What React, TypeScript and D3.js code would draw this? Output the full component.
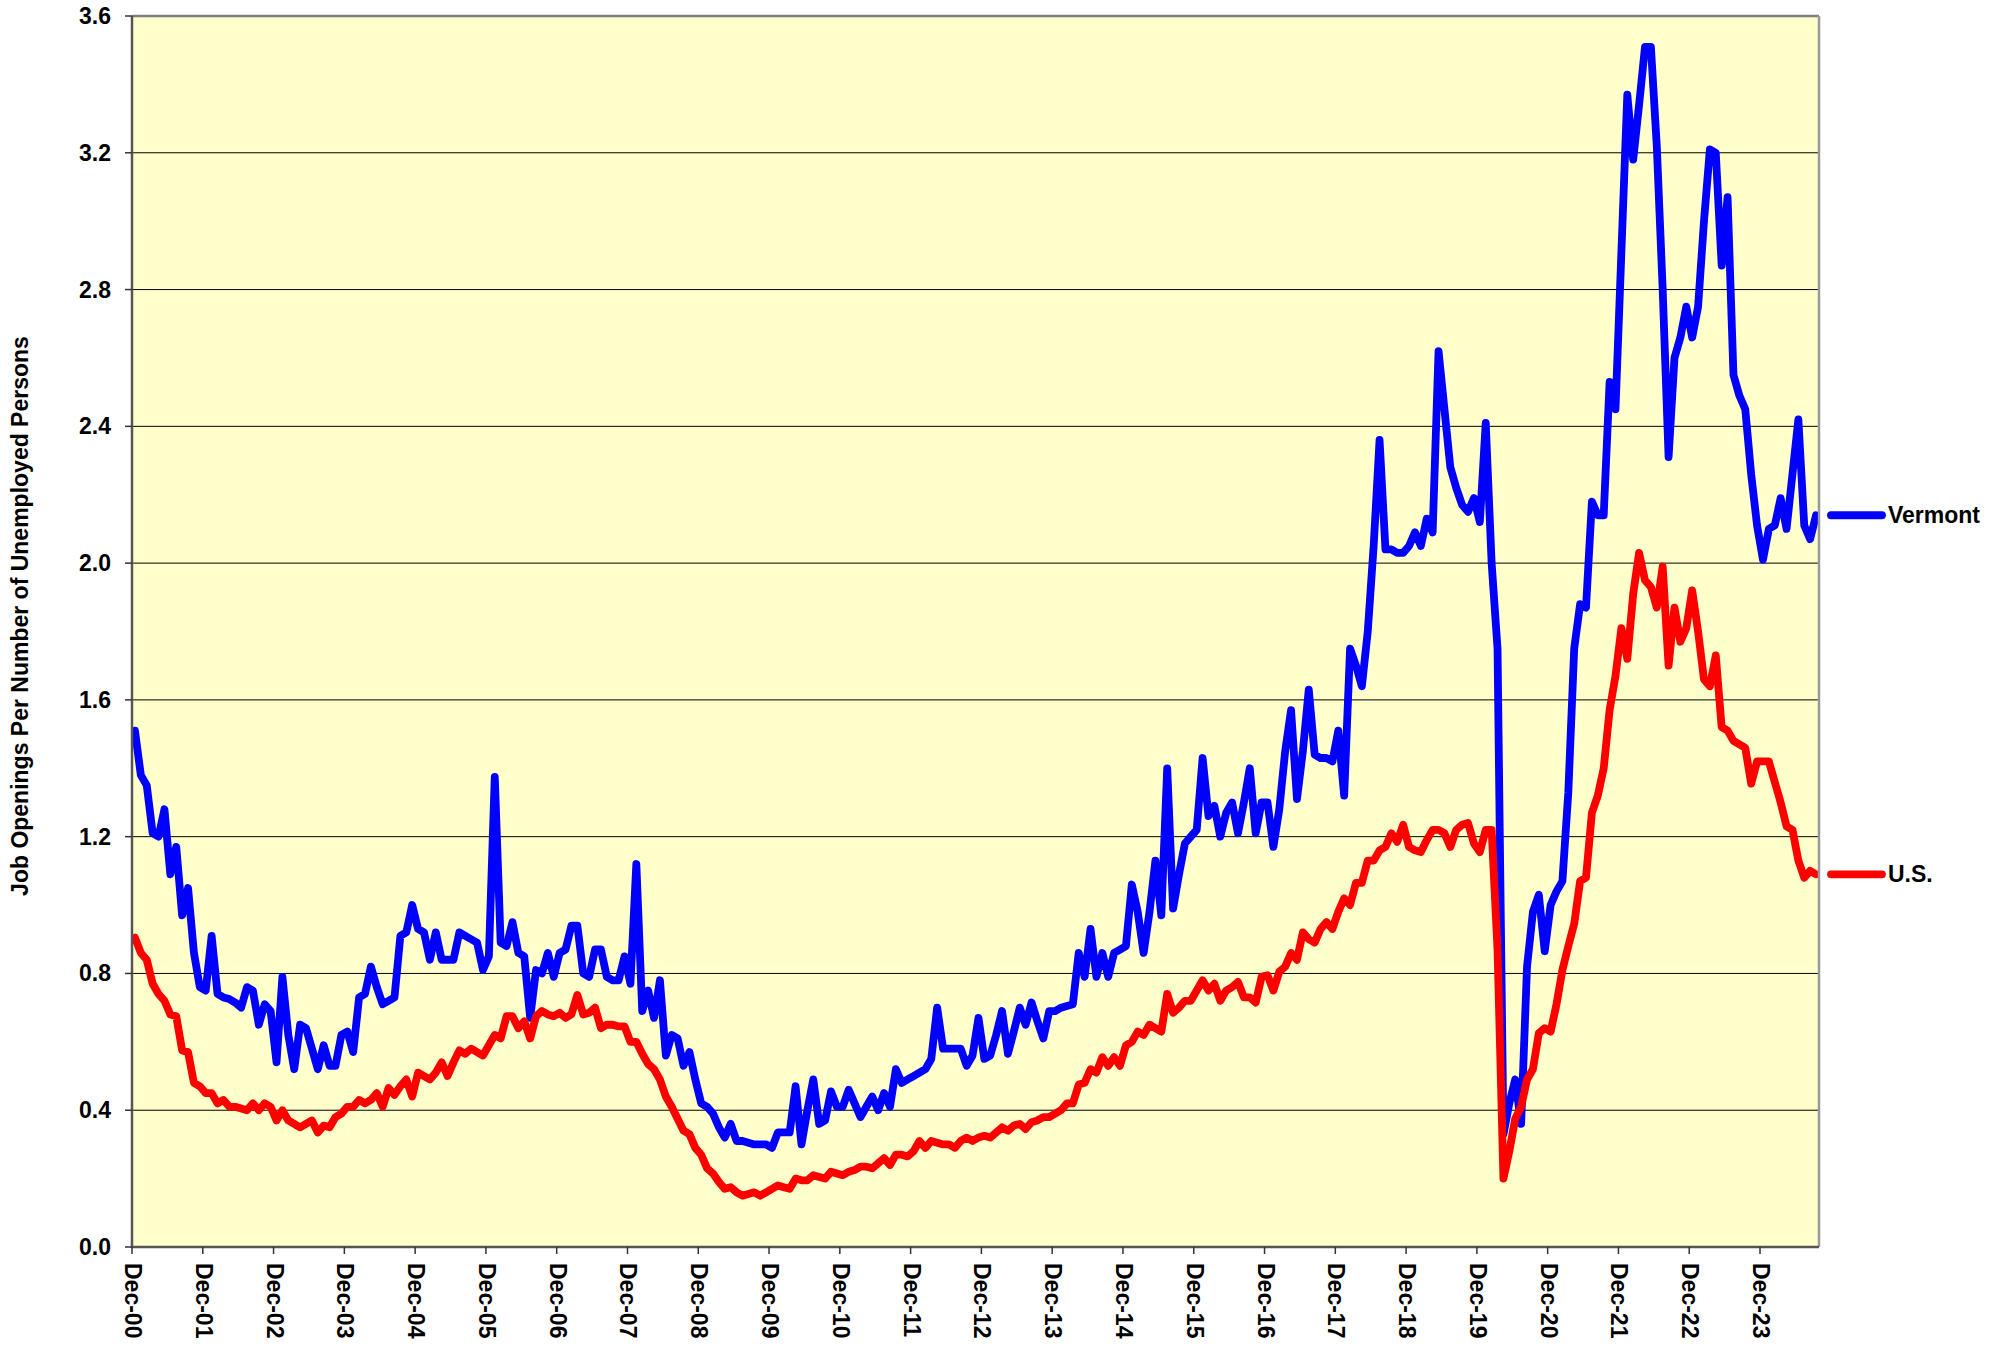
import React from 'react';
import * as d3 from 'd3';

// monthly ratios, Dec 2000 onwards
const vermont = [
  1.51, 1.38, 1.35, 1.21, 1.20, 1.28, 1.09, 1.17, 0.97, 1.05,
  0.86, 0.76, 0.75, 0.91, 0.74, 0.73, 0.725, 0.715, 0.70, 0.76,
  0.75, 0.65, 0.71, 0.69, 0.54, 0.79, 0.62, 0.52, 0.65, 0.64,
  0.58, 0.52, 0.59, 0.53, 0.53, 0.62, 0.63, 0.57, 0.73, 0.74,
  0.82, 0.76, 0.71, 0.72, 0.73, 0.91, 0.92, 1.00, 0.93, 0.92,
  0.84, 0.92, 0.84, 0.84, 0.84, 0.92, 0.91, 0.90, 0.89, 0.81,
  0.85, 1.375, 0.89, 0.88, 0.95, 0.86, 0.85, 0.67, 0.81, 0.80,
  0.86, 0.79, 0.86, 0.87, 0.94, 0.94, 0.80, 0.79, 0.87, 0.87,
  0.79, 0.78, 0.78, 0.85, 0.77, 1.12, 0.69, 0.75, 0.67, 0.78,
  0.56, 0.62, 0.61, 0.53, 0.57, 0.49, 0.42, 0.41, 0.39, 0.35,
  0.32, 0.36, 0.31, 0.31, 0.305, 0.30, 0.30, 0.30, 0.29, 0.335,
  0.335, 0.335, 0.47, 0.30, 0.40, 0.49, 0.36, 0.37, 0.455, 0.41,
  0.41, 0.46, 0.42, 0.38, 0.41, 0.44, 0.40, 0.45, 0.41, 0.52,
  0.48, 0.49, 0.50, 0.51, 0.52, 0.55, 0.70, 0.58, 0.58, 0.58,
  0.58, 0.53, 0.56, 0.67, 0.55, 0.56, 0.62, 0.69, 0.565, 0.63,
  0.70, 0.65, 0.715, 0.66, 0.61, 0.69, 0.69, 0.70, 0.705, 0.71,
  0.86, 0.79, 0.93, 0.79, 0.86, 0.79, 0.86, 0.87, 0.88, 1.06,
  0.98, 0.86, 0.98, 1.13, 0.97, 1.40, 0.99, 1.09, 1.18, 1.20,
  1.22, 1.43, 1.26, 1.29, 1.20, 1.27, 1.30, 1.21, 1.30, 1.40,
  1.21, 1.30, 1.30, 1.17, 1.28, 1.45, 1.57, 1.31, 1.45, 1.63,
  1.44, 1.43, 1.43, 1.42, 1.51, 1.32, 1.75, 1.70, 1.64, 1.80,
  2.05, 2.36, 2.04, 2.04, 2.03, 2.03, 2.05, 2.09, 2.05, 2.13,
  2.09, 2.62, 2.45, 2.28, 2.22, 2.17, 2.15, 2.19, 2.12, 2.41,
  2.00, 1.75, 0.33, 0.42, 0.49, 0.36, 0.82, 0.98, 1.03, 0.865,
  1.00, 1.04, 1.07, 1.33, 1.75, 1.88, 1.87, 2.18, 2.14, 2.14,
  2.53, 2.45, 2.91, 3.37, 3.18, 3.34, 3.51, 3.51, 3.22, 2.80,
  2.31, 2.60, 2.66, 2.75, 2.66, 2.75, 3.00, 3.21, 3.20, 2.87,
  3.07, 2.55, 2.49, 2.45, 2.26, 2.11, 2.01, 2.10, 2.11, 2.19,
  2.10, 2.26, 2.42, 2.11, 2.07, 2.14,
];

const us = [
  0.905, 0.86, 0.84, 0.77, 0.74, 0.72, 0.68, 0.675, 0.575, 0.57,
  0.48, 0.47, 0.45, 0.45, 0.42, 0.43, 0.41, 0.41, 0.405, 0.40,
  0.42, 0.40, 0.42, 0.41, 0.37, 0.40, 0.37, 0.36, 0.35, 0.36,
  0.37, 0.335, 0.355, 0.35, 0.38, 0.39, 0.41, 0.41, 0.43, 0.42,
  0.43, 0.45, 0.41, 0.465, 0.445, 0.47, 0.49, 0.44, 0.51, 0.50,
  0.49, 0.51, 0.54, 0.50, 0.54, 0.575, 0.565, 0.58, 0.57, 0.56,
  0.59, 0.62, 0.61, 0.675, 0.675, 0.64, 0.66, 0.61, 0.675, 0.69,
  0.68, 0.675, 0.685, 0.67, 0.68, 0.737, 0.68, 0.685, 0.70, 0.64,
  0.65, 0.65, 0.645, 0.645, 0.60, 0.60, 0.565, 0.535, 0.52, 0.49,
  0.44, 0.41, 0.375, 0.34, 0.33, 0.29, 0.27, 0.23, 0.215, 0.19,
  0.17, 0.175, 0.16, 0.15, 0.155, 0.16, 0.15, 0.16, 0.17, 0.18,
  0.175, 0.17, 0.20, 0.195, 0.195, 0.21, 0.205, 0.20, 0.22, 0.215,
  0.21, 0.22, 0.225, 0.235, 0.235, 0.23, 0.245, 0.26, 0.24, 0.27,
  0.27, 0.265, 0.28, 0.31, 0.29, 0.31, 0.305, 0.30, 0.30, 0.29,
  0.31, 0.32, 0.31, 0.32, 0.325, 0.32, 0.335, 0.35, 0.34, 0.355,
  0.36, 0.345, 0.365, 0.37, 0.38, 0.38, 0.39, 0.40, 0.42, 0.42,
  0.475, 0.48, 0.52, 0.51, 0.555, 0.53, 0.555, 0.53, 0.59, 0.60,
  0.63, 0.62, 0.65, 0.64, 0.63, 0.74, 0.685, 0.70, 0.72, 0.72,
  0.75, 0.78, 0.75, 0.77, 0.72, 0.75, 0.76, 0.775, 0.73, 0.73,
  0.715, 0.79, 0.795, 0.75, 0.805, 0.82, 0.86, 0.84, 0.92, 0.90,
  0.89, 0.93, 0.95, 0.93, 0.98, 1.02, 1.00, 1.065, 1.065, 1.13,
  1.13, 1.16, 1.17, 1.21, 1.185, 1.235, 1.17, 1.16, 1.155, 1.19,
  1.22, 1.22, 1.21, 1.17, 1.22, 1.235, 1.24, 1.18, 1.155, 1.22,
  1.22, 0.87, 0.20, 0.28, 0.375, 0.41, 0.49, 0.52, 0.625, 0.64,
  0.63, 0.71, 0.81, 0.88, 0.945, 1.07, 1.08, 1.27, 1.32, 1.40,
  1.57, 1.67, 1.81, 1.72, 1.91, 2.03, 1.95, 1.93, 1.87, 1.99,
  1.70, 1.87, 1.77, 1.81, 1.92, 1.80, 1.66, 1.64, 1.73, 1.52,
  1.51, 1.48, 1.47, 1.46, 1.355, 1.42, 1.42, 1.42, 1.36, 1.30,
  1.23, 1.22, 1.13, 1.08, 1.10, 1.09,
];

const yTicks = [0, 0.4, 0.8, 1.2, 1.6, 2.0, 2.4, 2.8, 3.2, 3.6];
const seriesNames = ['Vermont', 'U.S.'];
const seriesColors = ['#0000FF', '#FF0000'];
const yTitle = 'Job Openings Per Number of Unemployed Persons';

const W = 2007;
const H = 1348;
const left = 132;
const right = 1819;
const top = 16;
const bottom = 1247;
const font = '"Liberation Sans", Arial, sans-serif';

export default function App() {
  const months = d3.timeMonth.range(new Date(2000, 11, 1), new Date(2000, 11 + vermont.length, 1));
  const fmt = d3.timeFormat('%b-%y');
  const labels = months.map((d) => fmt(d));

  const x = d3.scaleBand<string>().domain(labels).range([left, right]);
  const bw = x.bandwidth();
  const y = d3.scaleLinear().domain([0, 3.6]).range([bottom, top]);

  const line = d3.line<number>()
    .x((d, i) => (x(labels[i]) as number) + bw / 2)
    .y((d) => y(d));

  const decTicks = months.filter((d) => d.getMonth() === 11).map((d) => fmt(d));
  const series = [vermont, us];

  return (
    <div style={{ position: 'absolute', left: 0, top: 0, background: '#fff' }}>
      <svg width={W} height={H} style={{ display: 'block' }} fontFamily={font} fontWeight="bold">
        <rect x={0} y={0} width={W} height={H} fill="#fff" />
        <rect x={left} y={top} width={right - left} height={bottom - top} fill="#FFFFCC" />

        {yTicks.slice(1, -1).map((t) => (
          <line key={t} x1={left} x2={right} y1={y(t)} y2={y(t)} stroke="#000" strokeWidth={1} />
        ))}

        {series.map((s, k) => (
          <path key={k} d={line(s) || ''} fill="none" stroke={seriesColors[k]} strokeWidth={7.8}
            strokeLinejoin="round" strokeLinecap="round" />
        ))}

        {/* frame */}
        <line x1={left} x2={right} y1={top} y2={top} stroke="#808080" strokeWidth={2.5} />
        <line x1={right} x2={right} y1={top} y2={bottom} stroke="#999" strokeWidth={2.5} />
        <line x1={left} x2={left} y1={top} y2={bottom + 1} stroke="#555" strokeWidth={2.5} />
        <line x1={left} x2={right} y1={bottom} y2={bottom} stroke="#555" strokeWidth={2.5} />

        {yTicks.map((t) => (
          <g key={t}>
            <line x1={left - 7} x2={left} y1={y(t)} y2={y(t)} stroke="#333" strokeWidth={1.5} />
            <text x={111} y={y(t)} textAnchor="end" dominantBaseline="central" fontSize={23} fill="#000">
              {t.toFixed(1)}
            </text>
          </g>
        ))}

        {decTicks.map((lab) => {
          const tx = x(lab) as number;
          return (
            <g key={lab}>
              <line x1={tx} x2={tx} y1={bottom} y2={bottom + 7} stroke="#333" strokeWidth={1.5} />
              <text transform={`translate(${tx + 1},${bottom + 16}) rotate(90)`} dominantBaseline="central"
                fontSize={23} fill="#000">
                {lab}
              </text>
            </g>
          );
        })}

        <text transform={`translate(20,616) rotate(-90)`} textAnchor="middle" dominantBaseline="central"
          fontSize={23} fill="#000">
          {yTitle}
        </text>

        {series.map((s, k) => {
          const ly = y(s[s.length - 1]);
          return (
            <g key={seriesNames[k]}>
              <line x1={1831} x2={1882} y1={ly} y2={ly} stroke={seriesColors[k]} strokeWidth={7.8} strokeLinecap="round" />
              <text x={1888} y={ly} dominantBaseline="central" fontSize={23} fill="#000">{seriesNames[k]}</text>
            </g>
          );
        })}
      </svg>
    </div>
  );
}
